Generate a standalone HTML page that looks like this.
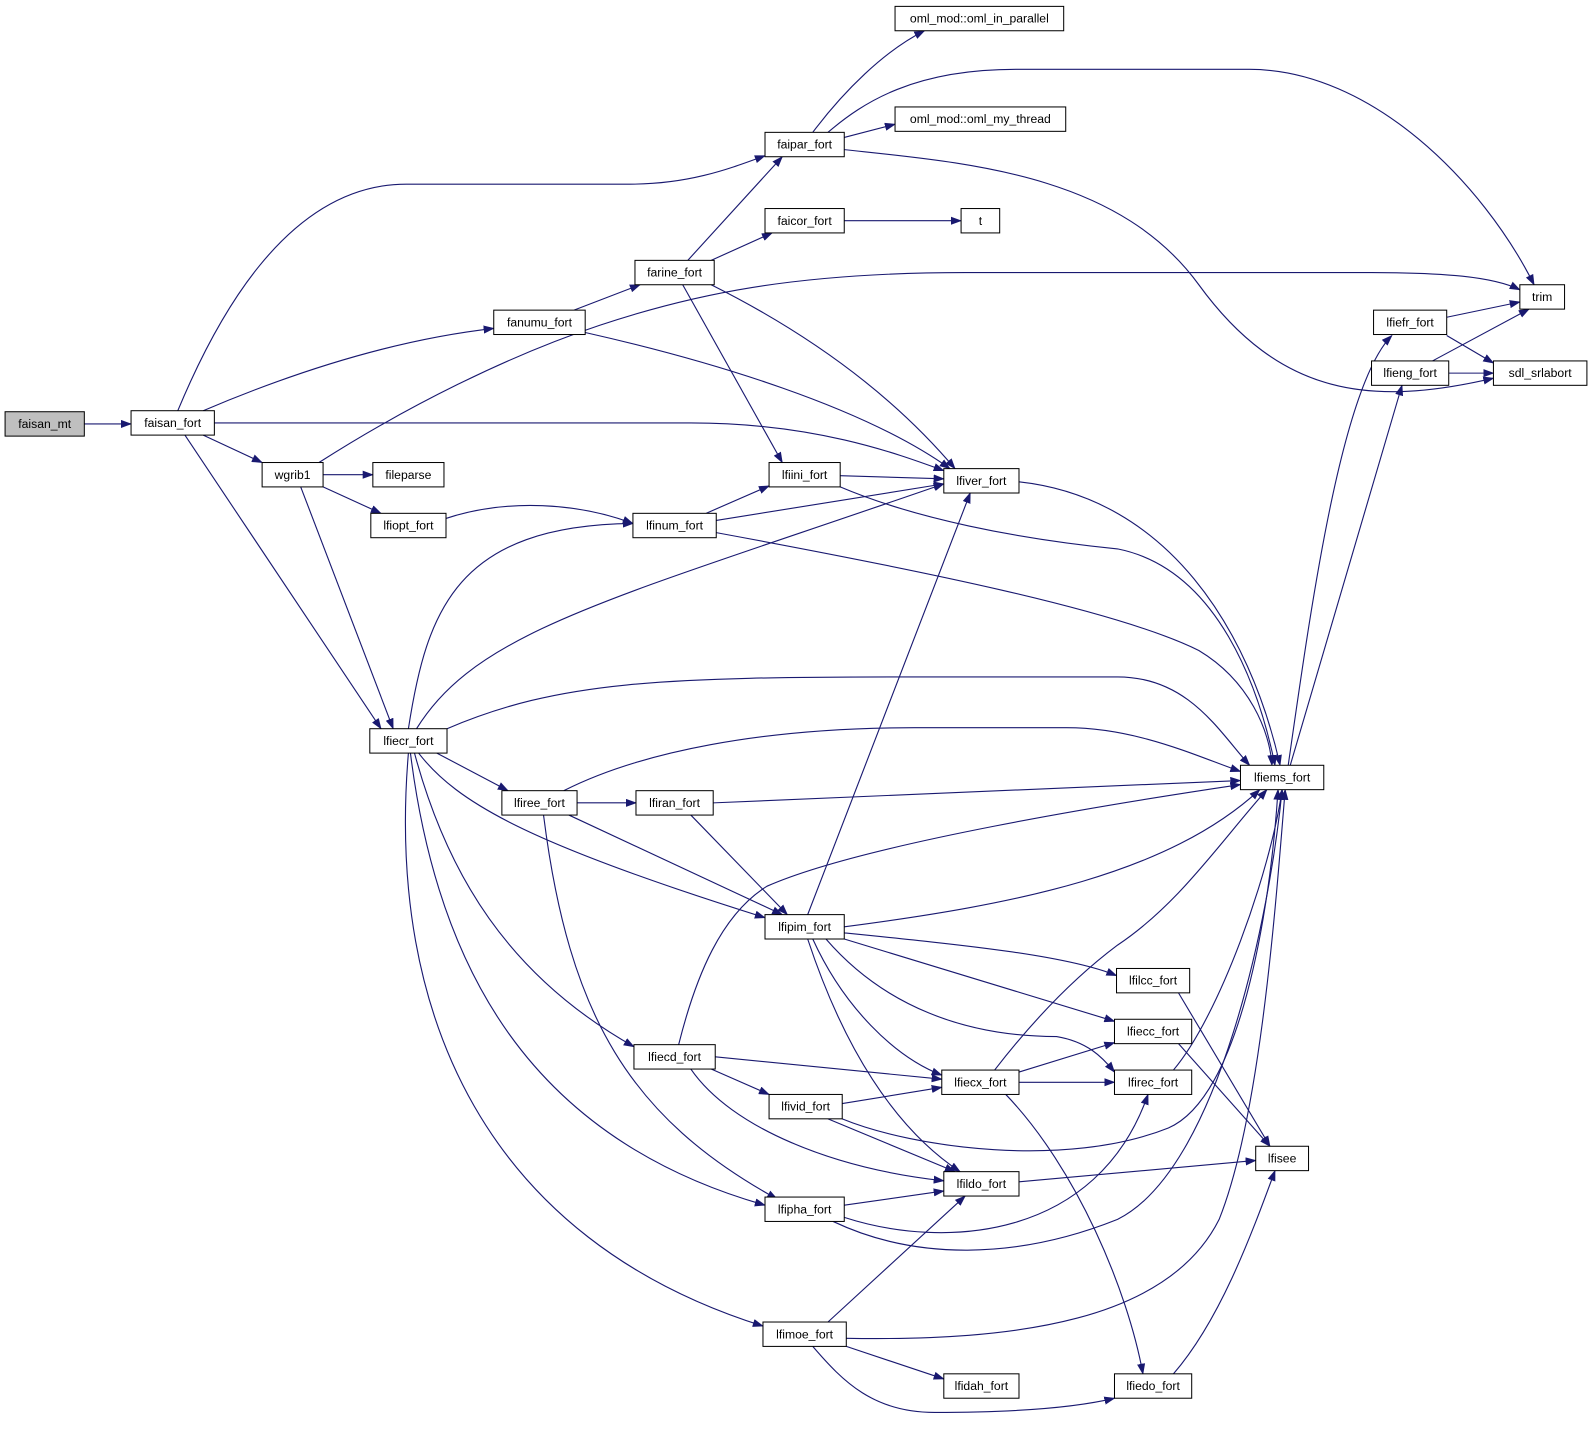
<!DOCTYPE html>
<html><head><meta charset="utf-8"><style>
html,body{margin:0;padding:0;background:#fff;}
svg{display:block;}
text{font-family:"Liberation Sans",Arial,sans-serif;font-size:12px;fill:#000;}
</style></head><body>
<svg width="1593" height="1431" viewBox="0 0 1568 1408" xmlns="http://www.w3.org/2000/svg">
<defs><marker id="a" markerUnits="userSpaceOnUse" markerWidth="11" markerHeight="8" refX="10" refY="4" orient="auto"><path d="M0,0 L11,4 L0,8 z" fill="#191970"/></marker></defs>
<g fill="none" stroke="#191970" stroke-width="1.1" marker-end="url(#a)">
<path d="M83,417 L129,417"/>
<path d="M175,404 C210,320 280,181 400,181 L620,181 C680,181 720,165 753,153"/>
<path d="M200,404 C280,370 380,335 486,323"/>
<path d="M211,416 L680,416 C800,416 880,445 929,463"/>
<path d="M200,428 L258,455"/>
<path d="M182,428 L375,717"/>
<path d="M318,467 L367,467"/>
<path d="M318,479 L375,505"/>
<path d="M296,479 L387,717"/>
<path d="M314,455 C400,400 500,350 590,320 C680,290 780,268 950,268 L1350,268 C1420,268 1470,272 1496,285"/>
<path d="M439,510 C500,490 570,495 623,515"/>
<path d="M565,305 L630,280"/>
<path d="M576,327 C700,355 850,400 935,461"/>
<path d="M677,256 L770,154"/>
<path d="M700,256 L760,229"/>
<path d="M672,280 L770,455"/>
<path d="M700,280 C800,330 880,390 940,461"/>
<path d="M831,217 L946,217"/>
<path d="M800,130 C830,90 870,50 910,30"/>
<path d="M831,135 L881,122"/>
<path d="M815,130 C850,100 900,68 1000,68 L1230,68 C1350,68 1460,180 1510,280"/>
<path d="M831,147 C950,160 1100,170 1180,280 C1260,390 1350,400 1470,372"/>
<path d="M1424,312 L1496,297"/>
<path d="M1424,330 L1470,357"/>
<path d="M1410,355 L1505,304"/>
<path d="M1426,367 L1470,367"/>
<path d="M1268,753 C1290,600 1320,380 1370,330"/>
<path d="M1270,753 L1380,379"/>
<path d="M827,468 L929,471"/>
<path d="M827,479 C900,510 1000,530 1100,540 C1200,560 1240,680 1255,753"/>
<path d="M695,505 L757,478"/>
<path d="M705,512 L929,476"/>
<path d="M705,524 C900,560 1100,600 1180,640 C1230,670 1250,720 1252,753"/>
<path d="M1003,474 C1150,490 1230,620 1260,753"/>
<path d="M402,717 C420,600 450,517 623,515"/>
<path d="M410,717 C470,620 600,590 929,476"/>
<path d="M440,717 C550,670 650,666 900,666 L1100,666 C1170,666 1200,720 1230,753"/>
<path d="M430,741 L500,778"/>
<path d="M412,741 C450,790 520,830 753,903"/>
<path d="M408,741 C440,860 500,960 624,1030"/>
<path d="M404,741 C430,950 520,1120 753,1186"/>
<path d="M402,741 C380,1000 480,1220 751,1305"/>
<path d="M568,790 L626,790"/>
<path d="M555,778 C630,740 750,716 900,716 L1050,716 C1120,716 1180,745 1221,759"/>
<path d="M560,802 L770,900"/>
<path d="M535,802 C560,1000 620,1100 765,1180"/>
<path d="M702,790 L1221,768"/>
<path d="M680,802 L775,900"/>
<path d="M795,900 L955,485"/>
<path d="M831,912 C1000,890 1150,860 1240,777"/>
<path d="M831,918 C950,930 1050,940 1099,960"/>
<path d="M831,924 C950,960 1050,990 1097,1005"/>
<path d="M813,924 C870,990 950,1020 1040,1020 C1070,1025 1085,1040 1097,1055"/>
<path d="M800,924 C830,990 880,1040 927,1058"/>
<path d="M795,924 C830,1030 880,1110 945,1153"/>
<path d="M668,1028 C685,960 710,900 755,872 C850,830 1100,790 1221,772"/>
<path d="M704,1040 L927,1062"/>
<path d="M700,1052 L757,1077"/>
<path d="M680,1052 C720,1110 820,1150 929,1162"/>
<path d="M829,1086 L927,1070"/>
<path d="M815,1101 L940,1153"/>
<path d="M829,1101 C900,1130 1050,1150 1150,1110 C1220,1080 1250,900 1258,777"/>
<path d="M979,1053 C1020,1000 1060,960 1100,930 C1160,890 1200,830 1247,777"/>
<path d="M1003,1055 L1097,1026"/>
<path d="M1003,1065 L1097,1065"/>
<path d="M990,1077 C1060,1150 1110,1270 1125,1352"/>
<path d="M1160,977 L1250,1128"/>
<path d="M1160,1027 L1250,1128"/>
<path d="M1155,1053 C1200,1000 1250,860 1262,777"/>
<path d="M1003,1163 L1236,1142"/>
<path d="M831,1186 L929,1172"/>
<path d="M831,1198 C930,1230 1080,1220 1130,1077"/>
<path d="M820,1202 C900,1240 1000,1240 1100,1200 C1200,1150 1250,900 1262,777"/>
<path d="M815,1301 L950,1177"/>
<path d="M833,1317 C1000,1320 1150,1300 1200,1200 C1240,1100 1255,900 1265,777"/>
<path d="M833,1325 L929,1357"/>
<path d="M800,1325 C830,1360 860,1390 920,1390 C1000,1390 1060,1385 1097,1376"/>
<path d="M1155,1352 C1200,1300 1230,1220 1255,1152"/>
</g>
<g stroke="#000" stroke-width="1" fill="#fff">
<rect x="5" y="405" width="78" height="24" fill="#bfbfbf"/>
<rect x="129" y="404" width="82" height="24"/>
<rect x="258" y="455" width="60" height="24"/>
<rect x="367" y="455" width="70" height="24"/>
<rect x="365" y="505" width="74" height="24"/>
<rect x="486" y="305" width="90" height="24"/>
<rect x="625" y="256" width="78" height="24"/>
<rect x="753" y="205" width="78" height="24"/>
<rect x="946" y="205" width="38" height="24"/>
<rect x="753" y="130" width="78" height="24"/>
<rect x="881" y="6" width="166" height="24"/>
<rect x="881" y="105" width="168" height="24"/>
<rect x="1496" y="280" width="44" height="24"/>
<rect x="1352" y="305" width="72" height="24"/>
<rect x="1350" y="355" width="76" height="24"/>
<rect x="1470" y="355" width="92" height="24"/>
<rect x="757" y="455" width="70" height="24"/>
<rect x="929" y="461" width="74" height="24"/>
<rect x="623" y="505" width="82" height="24"/>
<rect x="364" y="717" width="76" height="24"/>
<rect x="1221" y="753" width="82" height="24"/>
<rect x="494" y="778" width="74" height="24"/>
<rect x="626" y="778" width="76" height="24"/>
<rect x="753" y="900" width="78" height="24"/>
<rect x="1099" y="953" width="72" height="24"/>
<rect x="1097" y="1003" width="76" height="24"/>
<rect x="624" y="1028" width="80" height="24"/>
<rect x="927" y="1053" width="76" height="24"/>
<rect x="1097" y="1053" width="76" height="24"/>
<rect x="757" y="1077" width="72" height="24"/>
<rect x="1236" y="1128" width="52" height="24"/>
<rect x="929" y="1153" width="74" height="24"/>
<rect x="753" y="1178" width="78" height="24"/>
<rect x="751" y="1301" width="82" height="24"/>
<rect x="929" y="1352" width="74" height="24"/>
<rect x="1097" y="1352" width="76" height="24"/>
</g>
<g text-anchor="middle">
<text x="44" y="421">faisan_mt</text>
<text x="170" y="420">faisan_fort</text>
<text x="288" y="471">wgrib1</text>
<text x="402" y="471">fileparse</text>
<text x="402" y="521">lfiopt_fort</text>
<text x="531" y="321">fanumu_fort</text>
<text x="664" y="272">farine_fort</text>
<text x="792" y="221">faicor_fort</text>
<text x="965" y="221">t</text>
<text x="792" y="146">faipar_fort</text>
<text x="964" y="22">oml_mod::oml_in_parallel</text>
<text x="965" y="121">oml_mod::oml_my_thread</text>
<text x="1518" y="296">trim</text>
<text x="1388" y="321">lfiefr_fort</text>
<text x="1388" y="371">lfieng_fort</text>
<text x="1516" y="371">sdl_srlabort</text>
<text x="792" y="471">lfiini_fort</text>
<text x="966" y="477">lfiver_fort</text>
<text x="664" y="521">lfinum_fort</text>
<text x="402" y="733">lfiecr_fort</text>
<text x="1262" y="769">lfiems_fort</text>
<text x="531" y="794">lfiree_fort</text>
<text x="664" y="794">lfiran_fort</text>
<text x="792" y="916">lfipim_fort</text>
<text x="1135" y="969">lfilcc_fort</text>
<text x="1135" y="1019">lfiecc_fort</text>
<text x="664" y="1044">lfiecd_fort</text>
<text x="965" y="1069">lfiecx_fort</text>
<text x="1135" y="1069">lfirec_fort</text>
<text x="793" y="1093">lfivid_fort</text>
<text x="1262" y="1144">lfisee</text>
<text x="966" y="1169">lfildo_fort</text>
<text x="792" y="1194">lfipha_fort</text>
<text x="792" y="1317">lfimoe_fort</text>
<text x="966" y="1368">lfidah_fort</text>
<text x="1135" y="1368">lfiedo_fort</text>
</g>
</svg>
</body></html>
